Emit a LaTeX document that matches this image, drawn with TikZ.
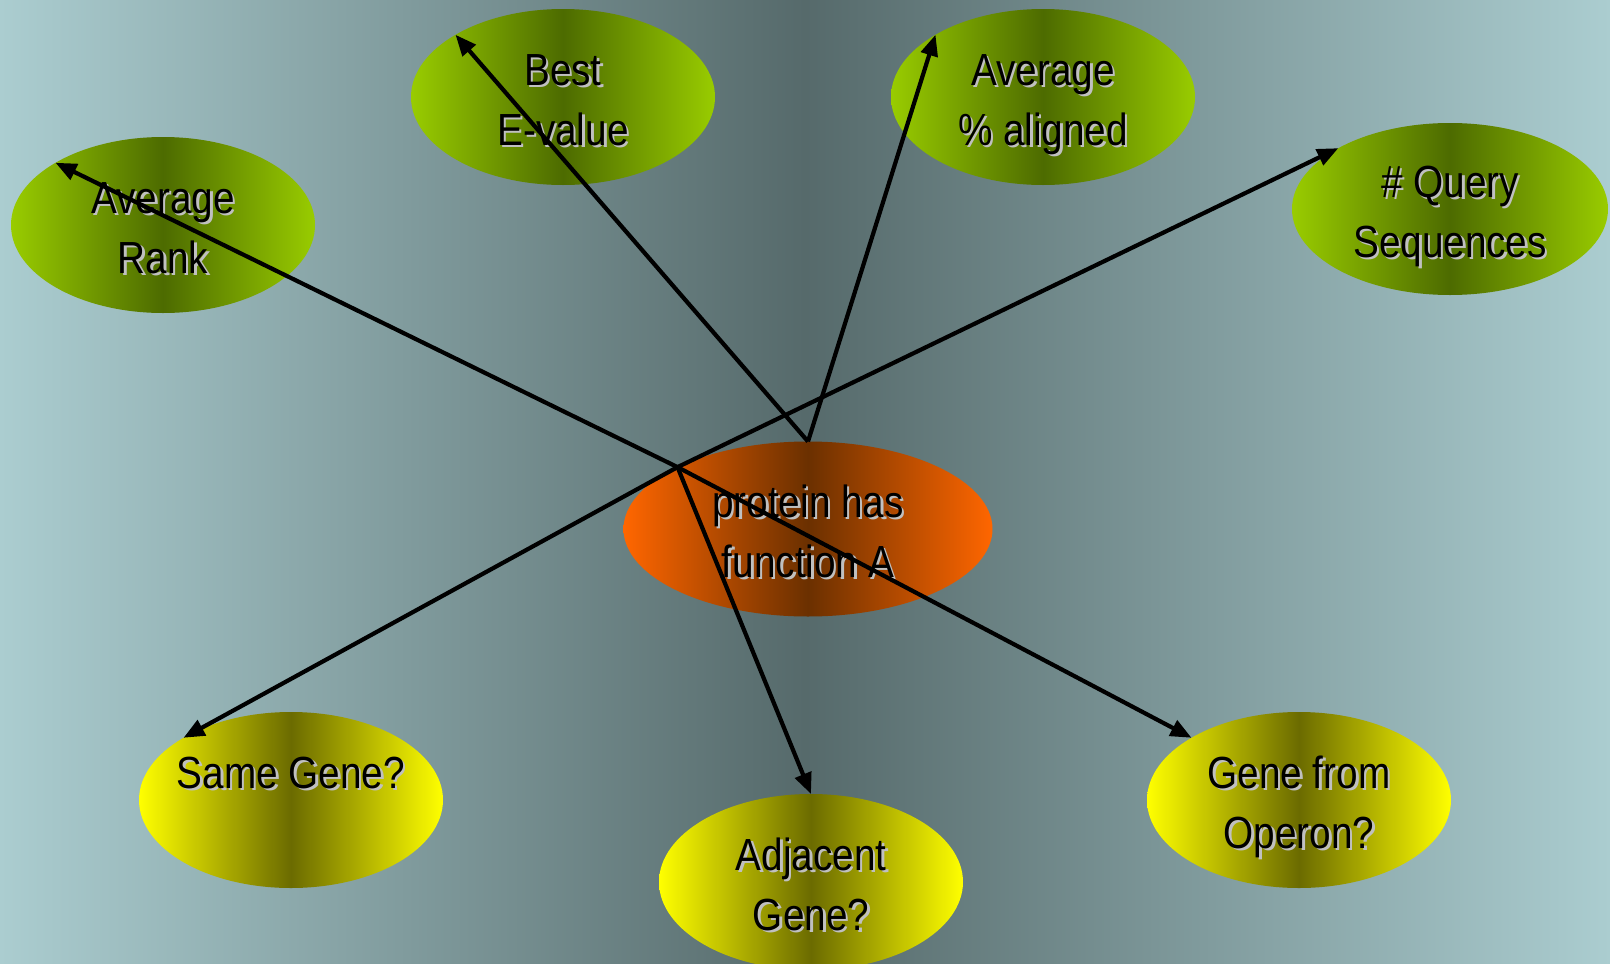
\documentclass[tikz,border=0pt]{standalone}
\usepackage{fontspec}
\setmainfont{Liberation Sans}[FakeStretch=0.86]
\usepackage{tikz}
\usetikzlibrary{shapes.geometric, arrows.meta}
\definecolor{bgedge}{HTML}{ABCDD0}
\definecolor{bgmid}{HTML}{566A6B}
\definecolor{limegreen}{HTML}{99CC00}
\definecolor{olivegreen}{HTML}{4D6B00}
\definecolor{brightyellow}{HTML}{FFFF00}
\definecolor{oliveyellow}{HTML}{6B6B00}
\definecolor{myorange}{HTML}{FF6600}
\definecolor{darkbrown}{HTML}{6B3000}
\definecolor{shadowgray}{HTML}{C0C0C0}
\newcommand{\shd}[1]{\rule[-12pt]{0pt}{60pt}\makebox[0pt][l]{\hspace{2.5pt}\raisebox{-2.5pt}[0pt][0pt]{\color{shadowgray}#1}}#1}

\begin{document}
\begin{tikzpicture}[
  x=1pt, y=-1pt,
  bubble/.style={ellipse, inner sep=0pt, outer sep=0pt, align=center, text=black, font=\fontsize{45}{60}\selectfont, minimum width=304pt, minimum height=176pt},
  evgreen/.style={bubble, left color=limegreen, right color=limegreen, middle color=olivegreen},
  evyellow/.style={bubble, left color=brightyellow, right color=brightyellow, middle color=oliveyellow},
  hypo/.style={bubble, left color=myorange, right color=myorange, middle color=darkbrown, minimum width=369pt, minimum height=175pt},
  arr/.style={-{Triangle[length=21pt, width=17pt]}, line width=4.2pt, color=black},
]
\useasboundingbox (0,0) rectangle (1610,964);
\fill[left color=bgedge, right color=bgedge, middle color=bgmid] (0,0) rectangle (1610,964);

\node[hypo] (prot) at (808,529) {\shd{protein has}\\\shd{function A}};
\node[evgreen] (rank) at (163,225) {\shd{Average}\\\shd{Rank}};
\node[evgreen] (evalue) at (563,97) {\shd{Best}\\\shd{E-value}};
\node[evgreen] (aligned) at (1043,97) {\shd{Average}\\\shd{\% aligned}};
\node[evgreen, minimum width=316pt, minimum height=172pt] (query) at (1450,209) {\shd{\# Query}\\\shd{Sequences}};
\node[evyellow, inner xsep=-20pt, text height=48pt, text depth=72pt] (same) at (291,800) {\shd{Same Gene?}};
\node[evyellow] (adj) at (811,882) {\shd{Adjacent}\\\shd{Gene?}};
\node[evyellow] (operon) at (1299,800) {\shd{Gene from}\\\shd{Operon?}};

\draw[arr] (prot.north) -- (evalue.north west);
\draw[arr] (prot.north) -- (aligned.north west);
\draw[arr] (prot.north west) -- (rank.north west);
\draw[arr] (prot.north west) -- (query.north west);
\draw[arr] (prot.north west) -- (same.north west);
\draw[arr] (prot.north west) -- (adj.north);
\draw[arr] (prot.north west) -- (operon.north west);
\end{tikzpicture}
\end{document}
